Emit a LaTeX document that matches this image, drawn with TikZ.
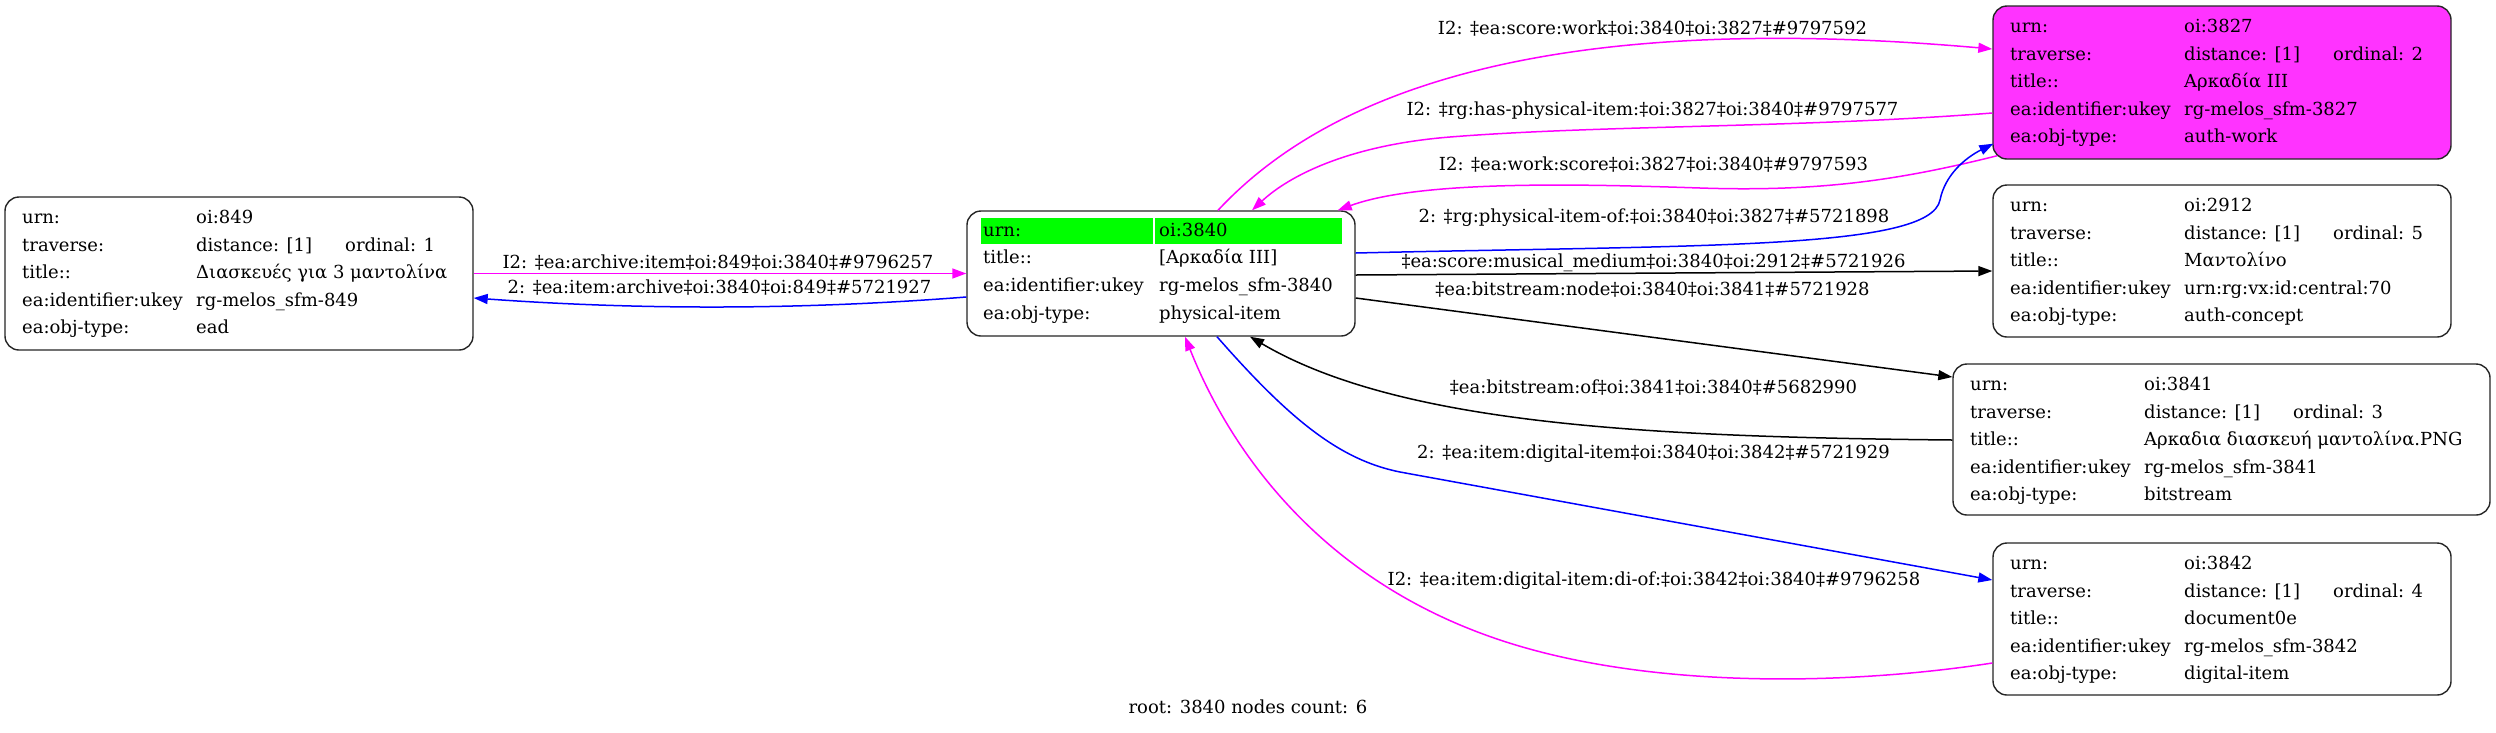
\documentclass[tikz,border=0pt]{standalone}
\usepackage{fontspec}
\setmainfont{DejaVu Serif}
\usetikzlibrary{arrows.meta,calc}
\definecolor{mag}{HTML}{FF00FF}
\definecolor{nodemag}{HTML}{FF33FF}
\definecolor{grn}{HTML}{00FF00}
\definecolor{blu}{HTML}{0000FF}
\tikzset{
  box/.style={draw=black!85, line width=1.4pt, rounded corners=14pt, inner sep=0pt},
  txt/.style={anchor=base west, inner sep=0pt, font=\fontsize{18}{22}\selectfont},
  lbl/.style={anchor=base, inner sep=0pt, font=\fontsize{18}{22}\selectfont},
  edge/.style={line width=1.5pt, -{Triangle[length=14pt,width=10pt]}},
  cell/.style={fill=grn, inner sep=0pt, minimum height=26pt}
}
\newcommand\recrows[8]{%
 \node[txt] (#1-a1) at ({#2+17},{#3+26.5}) {urn:};
 \node[txt] (#1-a2) at ({#2+191},{#3+26.5}) {#4};
 \node[txt] (#1-b1) at ({#2+17},{#3+54.1}) {traverse:};
 \node[txt] (#1-b2) at ({#2+191},{#3+54.1}) {distance: [1]};
 \node[txt] (#1-b3) at ({#2+340},{#3+54.1}) {ordinal: #5};
 \node[txt] (#1-c1) at ({#2+17},{#3+81.7}) {title::};
 \node[txt] (#1-c2) at ({#2+191},{#3+81.7}) {#6};
 \node[txt] (#1-d1) at ({#2+17},{#3+109.3}) {ea:identifier:ukey};
 \node[txt] (#1-d2) at ({#2+191},{#3+109.3}) {#7};
 \node[txt] (#1-e1) at ({#2+17},{#3+136.9}) {ea:obj-type:};
 \node[txt] (#1-e2) at ({#2+191},{#3+136.9}) {#8};
}
\begin{document}
\begin{tikzpicture}[x=1pt,y=-1pt]
\useasboundingbox[fill=white] (0,0) rectangle (2496,732);

% nodes
\node[box, minimum width=468pt, minimum height=153pt] (n849) at (239,273.5) {};
\recrows{r849}{5}{197}{oi:849}{1}{Διασκευές για 3 μαντολίνα}{rg-melos\_sfm-849}{ead}

\node[box, minimum width=388pt, minimum height=125pt] (n3840) at (1161,273.5) {};
\node[cell, minimum width=172pt] (g1) at (1067,231) {};
\node[cell, minimum width=187pt] (g2) at (1248.5,231) {};
\node[txt] (r3840-a1) at (983,236) {urn:};
\node[txt] (r3840-a2) at (1159,236) {oi:3840};
\node[txt] (r3840-c1) at (983,263.7) {title::};
\node[txt] (r3840-c2) at (1159,263.7) {[Αρκαδία III]};
\node[txt] (r3840-d1) at (983,291.4) {ea:identifier:ukey};
\node[txt] (r3840-d2) at (1159,291.4) {rg-melos\_sfm-3840};
\node[txt] (r3840-e1) at (983,319.1) {ea:obj-type:};
\node[txt] (r3840-e2) at (1159,319.1) {physical-item};

\node[box, fill=nodemag, minimum width=458pt, minimum height=153pt] (n3827) at (2222,82.5) {};
\recrows{r3827}{1993}{6}{oi:3827}{2}{Αρκαδία III}{rg-melos\_sfm-3827}{auth-work}

\node[box, minimum width=458pt, minimum height=152pt] (n2912) at (2222,261) {};
\recrows{r2912}{1993}{185}{oi:2912}{5}{Μαντολίνο}{urn:rg:vx:id:central:70}{auth-concept}

\node[box, minimum width=537pt, minimum height=151pt] (n3841) at (2221.5,439.5) {};
\recrows{r3841}{1953}{364}{oi:3841}{3}{Αρκαδια διασκευή μαντολίνα.PNG}{rg-melos\_sfm-3841}{bitstream}

\node[box, minimum width=458pt, minimum height=152pt] (n3842) at (2222,619) {};
\recrows{r3842}{1993}{543}{oi:3842}{4}{document0e}{rg-melos\_sfm-3842}{digital-item}

% edges
\draw[edge, mag] (n849.east) -- (n3840.west);
\draw[edge, blu] ($(n3840.west)+(0,23.5)$) .. controls (800,310) and (640,310) .. ($(n849.east)+(0,24.5)$);
\draw[edge, mag] ($(n3840.north)+(57,0)$) .. controls (1330,90) and (1550,10) .. ($(n3827.west)+(0,-33.5)$);
\draw[edge, mag] ($(n3827.west)+(0,30.5)$) .. controls (1800,128) and (1600,125) .. (1450,137) .. controls (1350,145) and (1290,175) .. ($(n3840.north)+(91,0)$);
\draw[edge, mag] ($(n3827.south west)+(5,-4)$) .. controls (1900,180) and (1820,192) .. (1700,188) .. controls (1580,184) and (1420,180) .. ($(n3840.north east)+(-18,0)$);
\draw[edge, blu] ($(n3840.east)+(0,-20.5)$) .. controls (1700,245) and (1930,250) .. (1940,200) .. controls (1945,175) and (1965,158) .. ($(n3827.south west)+(1,-16)$);
\draw[edge] ($(n3840.east)+(0,1.5)$) -- ($(n2912.west)+(0,10)$);
\draw[edge] ($(n3840.east)+(0,24.5)$) -- ($(n3841.west)+(0,-62.5)$);
\draw[edge] ($(n3841.west)+(0,0.5)$) .. controls (1650,437) and (1400,425) .. ($(n3840.south)+(89,0)$);
\draw[edge, blu] ($(n3840.south)+(56,0)$) .. controls (1290,420) and (1340,460) .. (1400,472) -- ($(n3842.west)+(0,-39)$);
\draw[edge, mag] ($(n3842.west)+(0,44)$) .. controls (1850,685) and (1650,690) .. (1500,640) .. controls (1320,580) and (1230,450) .. ($(n3840.south)+(24,0)$);

% edge labels
\node[lbl] (lA) at (718,268.5) {I2: ‡ea:archive:item‡oi:849‡oi:3840‡\#9796257};
\node[lbl] (lB) at (719.5,293.5) {2: ‡ea:item:archive‡oi:3840‡oi:849‡\#5721927};
\node[lbl] (lC) at (1652.5,34.2) {I2: ‡ea:score:work‡oi:3840‡oi:3827‡\#9797592};
\node[lbl] (lD) at (1652.5,115) {I2: ‡rg:has-physical-item:‡oi:3827‡oi:3840‡\#9797577};
\node[lbl] (lE) at (1653.5,170) {I2: ‡ea:work:score‡oi:3827‡oi:3840‡\#9797593};
\node[lbl] (lF) at (1654,222) {2: ‡rg:physical-item-of:‡oi:3840‡oi:3827‡\#5721898};
\node[lbl] (lG) at (1653.5,267) {‡ea:score:musical\_medium‡oi:3840‡oi:2912‡\#5721926};
\node[lbl] (lH) at (1652.5,295) {‡ea:bitstream:node‡oi:3840‡oi:3841‡\#5721928};
\node[lbl] (lI) at (1653.5,393.5) {‡ea:bitstream:of‡oi:3841‡oi:3840‡\#5682990};
\node[lbl] (lJ) at (1653.5,458.5) {2: ‡ea:item:digital-item‡oi:3840‡oi:3842‡\#5721929};
\node[lbl] (lK) at (1654,585) {I2: ‡ea:item:digital-item:di-of:‡oi:3842‡oi:3840‡\#9796258};

\node[lbl] (root) at (1248,713) {root: 3840 nodes count: 6};
\end{tikzpicture}
\end{document}
